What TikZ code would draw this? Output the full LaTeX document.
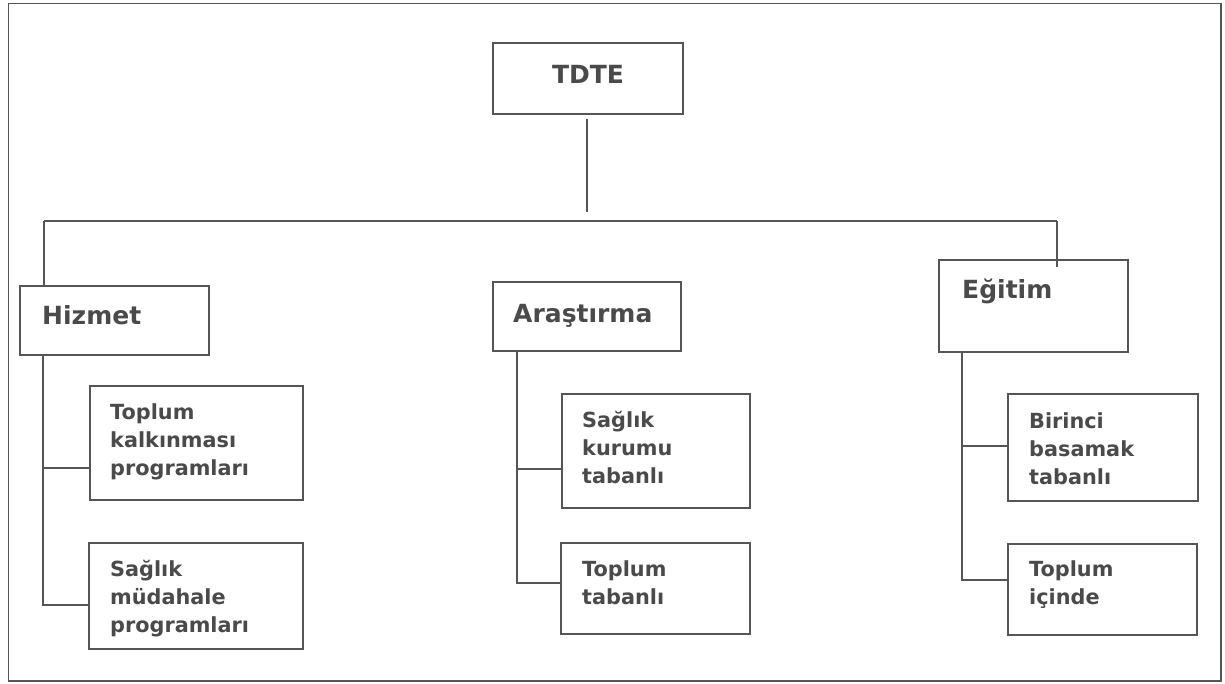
\documentclass[tikz,border=0pt]{standalone}
\usepackage{fontspec}
\setmainfont{DejaVu Sans}
\usetikzlibrary{positioning}
\definecolor{linecol}{HTML}{555555}
\definecolor{textcol}{HTML}{4A4A4A}
\tikzset{
  conn/.style={draw=linecol, line width=1.5pt},
  boxnode/.style={draw=linecol, line width=1.5pt, rectangle, inner sep=0pt, fill=white},
  headtxt/.style={text=textcol, inner sep=0pt, font=\fontsize{25}{30}\selectfont\bfseries},
  subtxt/.style={text=textcol, inner sep=0pt, align=left, anchor=north west,
     font=\fontsize{20.8}{28}\selectfont\bfseries},
}
\begin{document}
\begin{tikzpicture}[x=1pt,y=-1pt]
\useasboundingbox (0,0) rectangle (1225,683);
% outer frame
\draw[conn] (8.5,3.5) rectangle (1221,681);

% boxes
\node[boxnode, minimum width=190pt, minimum height=71pt] (tdte) at (588,78.5) {};
\node[boxnode, minimum width=189pt, minimum height=69pt] (hiz) at (114.5,320.5) {};
\node[boxnode, minimum width=188pt, minimum height=69pt] (ara) at (587,316.5) {};
\node[boxnode, minimum width=189pt, minimum height=92pt] (egi) at (1033.5,306) {};
\node[boxnode, minimum width=213pt, minimum height=114pt] (h1) at (196.5,443) {};
\node[boxnode, minimum width=214pt, minimum height=106pt] (h2) at (196,596) {};
\node[boxnode, minimum width=188pt, minimum height=114pt] (a1) at (656,451) {};
\node[boxnode, minimum width=189pt, minimum height=91pt] (a2) at (655.5,588.5) {};
\node[boxnode, minimum width=190pt, minimum height=107pt] (e1) at (1103,447.5) {};
\node[boxnode, minimum width=189pt, minimum height=91pt] (e2) at (1102.5,589.5) {};

% texts
\node[headtxt, anchor=base] (tTDTE) at (588,83) {TDTE};
\node[headtxt, anchor=base west] (tHiz) at (42,324) {Hizmet};
\node[headtxt, anchor=base west] (tAra) at (513,322) {Araştırma};
\node[headtxt, anchor=base west] (tEgi) at (962,298) {Eğitim};
\node[subtxt] (th1) at (110,399.4) {\strut Toplum\\kalkınması\\programları};
\node[subtxt] (th2) at (110,556.4) {\strut Sağlık\\müdahale\\programları};
\node[subtxt] (ta1) at (582,407.4) {\strut Sağlık\\kurumu\\tabanlı};
\node[subtxt] (ta2) at (582,556.4) {\strut Toplum\\tabanlı};
\node[subtxt] (te1) at (1029,408.4) {\strut Birinci\\basamak\\tabanlı};
\node[subtxt] (te2) at (1029,556.4) {\strut Toplum\\içinde};

% top connector and bus
\coordinate (topEnd) at (587,212);
\coordinate (busL) at (44,221);
\coordinate (busR) at (1057,221);
\coordinate (egiIn) at (1057,267);
\draw[conn, shorten <=4pt] (tdte.south -| topEnd) -- (topEnd);
\draw[conn] (busL) -- (busR);
\draw[conn] (busL) -- (hiz.north -| busL);
\draw[conn] (busR) -- (egiIn);

% Hizmet branch
\coordinate (hj1) at (43,468);
\coordinate (hj2) at (43,605);
\draw[conn] (hiz.south -| hj1) -- (hj2) -- (hj2 -| h2.west);
\draw[conn] (hj1) -- (hj1 -| h1.west);

% Arastirma branch
\coordinate (aj1) at (517,469);
\coordinate (aj2) at (517,583);
\draw[conn] (ara.south -| aj1) -- (aj2) -- (aj2 -| a2.west);
\draw[conn] (aj1) -- (aj1 -| a1.west);

% Egitim branch
\coordinate (ej1) at (962,446);
\coordinate (ej2) at (962,580);
\draw[conn] (egi.south -| ej1) -- (ej2) -- (ej2 -| e2.west);
\draw[conn] (ej1) -- (ej1 -| e1.west);
\end{tikzpicture}
\end{document}
